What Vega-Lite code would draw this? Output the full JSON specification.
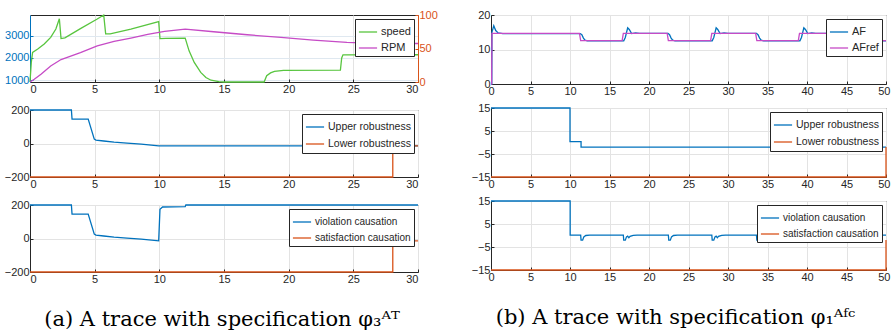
{
  "$schema": "https://vega.github.io/schema/vega-lite/v6.json",
  "padding": {"left": 0, "top": 4, "right": 0, "bottom": 0},
  "background": "white",
  "spacing": 16,
  "resolve": {"scale": {"color": "independent", "x": "independent", "y": "independent"}, "legend": {"color": "independent"}},
  "datasets": {
    "p1speed": [
      {"t": 0, "v": 920, "s": "speed"}, {"t": 0.1, "v": 1800, "s": "speed"}, {"t": 0.2, "v": 2250, "s": "speed"},
      {"t": 0.6, "v": 2400, "s": "speed"}, {"t": 1.1, "v": 2625, "s": "speed"}, {"t": 1.6, "v": 2925, "s": "speed"},
      {"t": 2.0, "v": 3300, "s": "speed"}, {"t": 2.27, "v": 3760, "s": "speed"}, {"t": 2.4, "v": 2870, "s": "speed"},
      {"t": 2.7, "v": 2900, "s": "speed"}, {"t": 3.9, "v": 3320, "s": "speed"}, {"t": 5.2, "v": 3750, "s": "speed"},
      {"t": 5.7, "v": 3930, "s": "speed"}, {"t": 5.85, "v": 3080, "s": "speed"}, {"t": 6.2, "v": 3080, "s": "speed"},
      {"t": 7.8, "v": 3300, "s": "speed"}, {"t": 9.95, "v": 3630, "s": "speed"}, {"t": 10.05, "v": 2870, "s": "speed"},
      {"t": 10.5, "v": 2880, "s": "speed"}, {"t": 12.0, "v": 2890, "s": "speed"}, {"t": 12.3, "v": 2320, "s": "speed"},
      {"t": 12.7, "v": 1800, "s": "speed"}, {"t": 13.2, "v": 1350, "s": "speed"}, {"t": 13.6, "v": 1120, "s": "speed"},
      {"t": 14.0, "v": 1000, "s": "speed"}, {"t": 14.6, "v": 935, "s": "speed"}, {"t": 15.0, "v": 920, "s": "speed"},
      {"t": 18.1, "v": 920, "s": "speed"}, {"t": 18.3, "v": 1200, "s": "speed"}, {"t": 18.6, "v": 1330, "s": "speed"},
      {"t": 18.9, "v": 1400, "s": "speed"}, {"t": 19.6, "v": 1445, "s": "speed"}, {"t": 24.0, "v": 1450, "s": "speed"},
      {"t": 24.1, "v": 2000, "s": "speed"}, {"t": 24.2, "v": 2140, "s": "speed"}, {"t": 30, "v": 2145, "s": "speed"}
    ],
    "p1rpm": [
      {"t": 0, "v": 0, "s": "RPM"}, {"t": 0.33, "v": 4, "s": "RPM"}, {"t": 0.85, "v": 11.5, "s": "RPM"},
      {"t": 1.6, "v": 24, "s": "RPM"}, {"t": 2.4, "v": 33.5, "s": "RPM"}, {"t": 3.9, "v": 44, "s": "RPM"},
      {"t": 5.2, "v": 54, "s": "RPM"}, {"t": 6.5, "v": 60.5, "s": "RPM"}, {"t": 7.8, "v": 65.5, "s": "RPM"},
      {"t": 9.1, "v": 71, "s": "RPM"}, {"t": 10.4, "v": 75.5, "s": "RPM"}, {"t": 12.0, "v": 79, "s": "RPM"},
      {"t": 14.2, "v": 75, "s": "RPM"}, {"t": 16.8, "v": 70.5, "s": "RPM"}, {"t": 19.4, "v": 66.5, "s": "RPM"},
      {"t": 21.9, "v": 62.5, "s": "RPM"}, {"t": 24.5, "v": 59, "s": "RPM"}, {"t": 27.1, "v": 57.5, "s": "RPM"},
      {"t": 30, "v": 57.5, "s": "RPM"}
    ],
    "p2": [
      {"t": 0, "v": 200, "s": "Upper robustness"}, {"t": 3.2, "v": 200, "s": "Upper robustness"},
      {"t": 3.25, "v": 146, "s": "Upper robustness"}, {"t": 4.5, "v": 146, "s": "Upper robustness"},
      {"t": 4.97, "v": 26, "s": "Upper robustness"}, {"t": 5.1, "v": 20, "s": "Upper robustness"},
      {"t": 5.7, "v": 15, "s": "Upper robustness"}, {"t": 6.5, "v": 8, "s": "Upper robustness"},
      {"t": 7.5, "v": 2, "s": "Upper robustness"}, {"t": 8.6, "v": -4, "s": "Upper robustness"},
      {"t": 9.95, "v": -14, "s": "Upper robustness"}, {"t": 30, "v": -14, "s": "Upper robustness"},
      {"t": 0, "v": -200, "s": "Lower robustness"}, {"t": 28.05, "v": -200, "s": "Lower robustness"},
      {"t": 28.05, "v": -14, "s": "Lower robustness"}, {"t": 30, "v": -14, "s": "Lower robustness"}
    ],
    "p3": [
      {"t": 0, "v": 200, "s": "violation causation"}, {"t": 3.2, "v": 200, "s": "violation causation"},
      {"t": 3.25, "v": 146, "s": "violation causation"}, {"t": 4.5, "v": 146, "s": "violation causation"},
      {"t": 4.97, "v": 26, "s": "violation causation"}, {"t": 5.1, "v": 20, "s": "violation causation"},
      {"t": 5.7, "v": 15, "s": "violation causation"}, {"t": 6.5, "v": 8, "s": "violation causation"},
      {"t": 7.5, "v": 2, "s": "violation causation"}, {"t": 8.6, "v": -4, "s": "violation causation"},
      {"t": 9.95, "v": -14, "s": "violation causation"}, {"t": 10.05, "v": 175, "s": "violation causation"},
      {"t": 10.25, "v": 188, "s": "violation causation"}, {"t": 12.0, "v": 190, "s": "violation causation"},
      {"t": 12.05, "v": 200, "s": "violation causation"}, {"t": 30, "v": 200, "s": "violation causation"},
      {"t": 0, "v": -200, "s": "satisfaction causation"}, {"t": 28.05, "v": -200, "s": "satisfaction causation"},
      {"t": 28.05, "v": -14, "s": "satisfaction causation"}, {"t": 30, "v": -14, "s": "satisfaction causation"}
    ],
    "p4": [
      {"t": 0, "v": 0, "s": "AF"}, {"t": 0.1, "v": 0, "s": "AF"}, {"t": 0.12, "v": 15, "s": "AF"},
      {"t": 0.35, "v": 16.9, "s": "AF"}, {"t": 0.6, "v": 15.5, "s": "AF"}, {"t": 0.9, "v": 14.8, "s": "AF"},
      {"t": 1.5, "v": 14.6, "s": "AF"}, {"t": 11.3, "v": 14.6, "s": "AF"}, {"t": 11.5, "v": 14.3, "s": "AF"},
      {"t": 11.7, "v": 13.3, "s": "AF"}, {"t": 11.9, "v": 12.7, "s": "AF"}, {"t": 12.2, "v": 12.5, "s": "AF"},
      {"t": 16.8, "v": 12.5, "s": "AF"}, {"t": 17.0, "v": 13.5, "s": "AF"}, {"t": 17.3, "v": 16.3, "s": "AF"},
      {"t": 17.5, "v": 15.8, "s": "AF"}, {"t": 17.8, "v": 14.6, "s": "AF"}, {"t": 18.3, "v": 14.8, "s": "AF"},
      {"t": 18.8, "v": 14.7, "s": "AF"}, {"t": 22.4, "v": 14.7, "s": "AF"}, {"t": 22.6, "v": 14.3, "s": "AF"},
      {"t": 22.8, "v": 13.3, "s": "AF"}, {"t": 23.0, "v": 12.7, "s": "AF"}, {"t": 23.3, "v": 12.5, "s": "AF"},
      {"t": 28.0, "v": 12.5, "s": "AF"}, {"t": 28.2, "v": 13.5, "s": "AF"}, {"t": 28.5, "v": 16.3, "s": "AF"},
      {"t": 28.7, "v": 15.8, "s": "AF"}, {"t": 29.0, "v": 14.6, "s": "AF"}, {"t": 29.5, "v": 14.8, "s": "AF"},
      {"t": 30.0, "v": 14.7, "s": "AF"}, {"t": 33.6, "v": 14.7, "s": "AF"}, {"t": 33.8, "v": 14.3, "s": "AF"},
      {"t": 34.0, "v": 13.3, "s": "AF"}, {"t": 34.2, "v": 12.7, "s": "AF"}, {"t": 34.5, "v": 12.5, "s": "AF"},
      {"t": 39.1, "v": 12.5, "s": "AF"}, {"t": 39.3, "v": 13.5, "s": "AF"}, {"t": 39.6, "v": 16.3, "s": "AF"},
      {"t": 39.8, "v": 15.8, "s": "AF"}, {"t": 40.1, "v": 14.6, "s": "AF"}, {"t": 40.6, "v": 14.8, "s": "AF"},
      {"t": 41.1, "v": 14.7, "s": "AF"}, {"t": 44.8, "v": 14.7, "s": "AF"}, {"t": 45.0, "v": 14.3, "s": "AF"},
      {"t": 45.2, "v": 13.3, "s": "AF"}, {"t": 45.4, "v": 12.7, "s": "AF"}, {"t": 45.7, "v": 12.5, "s": "AF"},
      {"t": 50, "v": 12.5, "s": "AF"},
      {"t": 0, "v": 0, "s": "AFref"}, {"t": 0.08, "v": 0, "s": "AFref"}, {"t": 0.12, "v": 14.7, "s": "AFref"},
      {"t": 11.2, "v": 14.7, "s": "AFref"}, {"t": 11.35, "v": 12.6, "s": "AFref"}, {"t": 16.6, "v": 12.6, "s": "AFref"},
      {"t": 16.75, "v": 14.7, "s": "AFref"}, {"t": 22.3, "v": 14.7, "s": "AFref"}, {"t": 22.45, "v": 12.6, "s": "AFref"},
      {"t": 27.8, "v": 12.6, "s": "AFref"}, {"t": 27.95, "v": 14.7, "s": "AFref"}, {"t": 33.5, "v": 14.7, "s": "AFref"},
      {"t": 33.65, "v": 12.6, "s": "AFref"}, {"t": 38.9, "v": 12.6, "s": "AFref"}, {"t": 39.05, "v": 14.7, "s": "AFref"},
      {"t": 44.7, "v": 14.7, "s": "AFref"}, {"t": 44.85, "v": 12.6, "s": "AFref"}, {"t": 50, "v": 12.6, "s": "AFref"}
    ],
    "p5": [
      {"t": 0, "v": 15, "s": "Upper robustness"}, {"t": 10, "v": 15, "s": "Upper robustness"},
      {"t": 10, "v": 0.4, "s": "Upper robustness"}, {"t": 11.4, "v": 0.4, "s": "Upper robustness"},
      {"t": 11.4, "v": -2, "s": "Upper robustness"}, {"t": 50, "v": -2, "s": "Upper robustness"},
      {"t": 0, "v": -15, "s": "Lower robustness"}, {"t": 50, "v": -15, "s": "Lower robustness"},
      {"t": 50, "v": -2, "s": "Lower robustness"}
    ],
    "p6": [
      {"t": 0, "v": 15, "s": "violation causation"}, {"t": 10.02, "v": 15, "s": "violation causation"},
      {"t": 10.02, "v": 0.2, "s": "violation causation"}, {"t": 11.35, "v": 0.2, "s": "violation causation"},
      {"t": 11.4, "v": -2, "s": "violation causation"}, {"t": 11.6, "v": -2, "s": "violation causation"},
      {"t": 11.75, "v": -0.6, "s": "violation causation"}, {"t": 12.0, "v": 0, "s": "violation causation"},
      {"t": 12.5, "v": 0.2, "s": "violation causation"}, {"t": 16.75, "v": 0.2, "s": "violation causation"},
      {"t": 16.8, "v": -2, "s": "violation causation"}, {"t": 17.0, "v": -2, "s": "violation causation"},
      {"t": 17.15, "v": -0.6, "s": "violation causation"}, {"t": 17.3, "v": -0.3, "s": "violation causation"},
      {"t": 17.45, "v": -1, "s": "violation causation"}, {"t": 17.6, "v": -0.4, "s": "violation causation"},
      {"t": 18.0, "v": 0.1, "s": "violation causation"}, {"t": 18.5, "v": 0.2, "s": "violation causation"},
      {"t": 22.45, "v": 0.2, "s": "violation causation"}, {"t": 22.5, "v": -2, "s": "violation causation"},
      {"t": 22.7, "v": -2, "s": "violation causation"}, {"t": 22.85, "v": -0.6, "s": "violation causation"},
      {"t": 23.1, "v": 0, "s": "violation causation"}, {"t": 23.6, "v": 0.2, "s": "violation causation"},
      {"t": 27.95, "v": 0.2, "s": "violation causation"}, {"t": 28.0, "v": -2, "s": "violation causation"},
      {"t": 28.2, "v": -2, "s": "violation causation"}, {"t": 28.35, "v": -0.6, "s": "violation causation"},
      {"t": 28.5, "v": -0.3, "s": "violation causation"}, {"t": 28.65, "v": -1, "s": "violation causation"},
      {"t": 28.8, "v": -0.4, "s": "violation causation"}, {"t": 29.2, "v": 0.1, "s": "violation causation"},
      {"t": 29.7, "v": 0.2, "s": "violation causation"}, {"t": 33.6, "v": 0.2, "s": "violation causation"},
      {"t": 33.65, "v": -2, "s": "violation causation"}, {"t": 33.85, "v": -2, "s": "violation causation"},
      {"t": 34.0, "v": -0.6, "s": "violation causation"}, {"t": 34.25, "v": 0, "s": "violation causation"},
      {"t": 34.75, "v": 0.2, "s": "violation causation"}, {"t": 39.1, "v": 0.2, "s": "violation causation"},
      {"t": 39.15, "v": -2, "s": "violation causation"}, {"t": 39.35, "v": -2, "s": "violation causation"},
      {"t": 39.5, "v": -0.6, "s": "violation causation"}, {"t": 39.65, "v": -0.3, "s": "violation causation"},
      {"t": 39.8, "v": -1, "s": "violation causation"}, {"t": 39.95, "v": -0.4, "s": "violation causation"},
      {"t": 40.35, "v": 0.1, "s": "violation causation"}, {"t": 40.85, "v": 0.2, "s": "violation causation"},
      {"t": 44.75, "v": 0.2, "s": "violation causation"}, {"t": 44.8, "v": -2, "s": "violation causation"},
      {"t": 45.0, "v": -2, "s": "violation causation"}, {"t": 45.15, "v": -0.6, "s": "violation causation"},
      {"t": 45.4, "v": 0, "s": "violation causation"}, {"t": 45.9, "v": 0.2, "s": "violation causation"},
      {"t": 50, "v": 0.2, "s": "violation causation"},
      {"t": 0, "v": -15, "s": "satisfaction causation"}, {"t": 50, "v": -15, "s": "satisfaction causation"},
      {"t": 50, "v": -2, "s": "satisfaction causation"}
    ]
  },
  "hconcat": [
    {
      "resolve": {"scale": {"color": "independent", "x": "independent", "y": "independent"}, "legend": {"color": "independent"}},
      "vconcat": [
        {
          "width": 388, "height": 67,
          "title": {"text": " ", "fontSize": 1, "offset": 3},
          "layer": [
            {
              "data": {"name": "p1speed"},
              "mark": {"type": "line"},
              "encoding": {
                "x": {"field": "t", "type": "quantitative", "scale": {"domain": [0, 30], "nice": false}, "axis": {"values": [0, 5, 10, 15, 20, 25, 30], "title": null}},
                "y": {"field": "v", "type": "quantitative", "scale": {"domain": [920, 3930], "nice": false, "zero": false},
                  "axis": {"values": [1000, 2000, 3000], "format": "d", "orient": "left", "title": null, "labelColor": "#0072BD", "domainColor": "#0072BD", "tickColor": "#0072BD", "gridColor": "#dfe8f0", "minExtent": 29, "maxExtent": 29}},
                "color": {"field": "s", "type": "nominal", "scale": {"domain": ["speed", "RPM"], "range": ["#58C53F", "#C64BC6"]}, "legend": {"labelFontSize": 11}},
                "order": {"value": null}
              }
            },
            {
              "data": {"name": "p1rpm"},
              "mark": {"type": "line"},
              "encoding": {
                "x": {"field": "t", "type": "quantitative"},
                "y": {"field": "v", "type": "quantitative", "scale": {"domain": [0, 100], "nice": false},
                  "axis": {"values": [0, 50, 100], "orient": "right", "title": null, "grid": false, "labelColor": "#D95319", "domainColor": "#D95319", "tickColor": "#D95319", "minExtent": 25, "maxExtent": 25}},
                "color": {"field": "s", "type": "nominal", "scale": {"domain": ["speed", "RPM"], "range": ["#58C53F", "#C64BC6"]}},
                "order": {"value": null}
              }
            }
          ],
          "resolve": {"scale": {"y": "independent"}}
        },
        {
          "width": 388, "height": 67,
          "data": {"name": "p2"},
          "mark": {"type": "line"},
          "encoding": {
            "x": {"field": "t", "type": "quantitative", "scale": {"domain": [0, 30], "nice": false}, "axis": {"values": [0, 5, 10, 15, 20, 25, 30], "title": null}},
            "y": {"field": "v", "type": "quantitative", "scale": {"domain": [-200, 200], "nice": false}, "axis": {"values": [-200, 0, 200], "title": null, "minExtent": 29, "maxExtent": 29}},
            "color": {"field": "s", "type": "nominal", "scale": {"domain": ["Upper robustness", "Lower robustness"], "range": ["#0072BD", "#D95319"]}, "legend": {"labelFontSize": 10.5}},
            "order": {"value": null}
          }
        },
        {
          "width": 388, "height": 67,
          "data": {"name": "p3"},
          "mark": {"type": "line"},
          "encoding": {
            "x": {"field": "t", "type": "quantitative", "scale": {"domain": [0, 30], "nice": false}, "axis": {"values": [0, 5, 10, 15, 20, 25, 30], "title": null}},
            "y": {"field": "v", "type": "quantitative", "scale": {"domain": [-200, 200], "nice": false}, "axis": {"values": [-200, 0, 200], "title": null, "minExtent": 29, "maxExtent": 29}},
            "color": {"field": "s", "type": "nominal", "scale": {"domain": ["violation causation", "satisfaction causation"], "range": ["#0072BD", "#D95319"]}, "legend": {"labelFontSize": 10}},
            "order": {"value": null}
          }
        }
      ],
      "spacing": 8,
      "align": "each",
      "title": {"text": "(a) A trace with specification φ₃ᴬᵀ", "orient": "bottom", "anchor": "middle", "frame": "bounds", "font": "DejaVu Serif", "fontSize": 21, "fontWeight": "normal", "color": "#000000", "offset": 24}
    },
    {
      "resolve": {"scale": {"color": "independent", "x": "independent", "y": "independent"}, "legend": {"color": "independent"}},
      "vconcat": [
        {
          "width": 395, "height": 69,
          "data": {"name": "p4"},
          "mark": {"type": "line"},
          "encoding": {
            "x": {"field": "t", "type": "quantitative", "scale": {"domain": [0, 50], "nice": false},
              "axis": {"values": [0, 5, 10, 15, 20, 25, 30, 35, 40, 45, 50], "title": null,
                "labelAlign": {"condition": {"test": "datum.value == 50", "value": "right"}, "value": "center"},
                "labelOffset": {"condition": {"test": "datum.value == 50", "value": 4}, "value": 0}}},
            "y": {"field": "v", "type": "quantitative", "scale": {"domain": [0, 20], "nice": false}, "axis": {"values": [0, 10, 20], "title": null, "minExtent": 30, "maxExtent": 30}},
            "color": {"field": "s", "type": "nominal", "scale": {"domain": ["AF", "AFref"], "range": ["#0072BD", "#C64BC6"]}, "legend": {"labelFontSize": 11}},
            "order": {"value": null}
          }
        },
        {
          "width": 395, "height": 69,
          "data": {"name": "p5"},
          "mark": {"type": "line"},
          "encoding": {
            "x": {"field": "t", "type": "quantitative", "scale": {"domain": [0, 50], "nice": false},
              "axis": {"values": [0, 5, 10, 15, 20, 25, 30, 35, 40, 45, 50], "title": null,
                "labelAlign": {"condition": {"test": "datum.value == 50", "value": "right"}, "value": "center"},
                "labelOffset": {"condition": {"test": "datum.value == 50", "value": 4}, "value": 0}}},
            "y": {"field": "v", "type": "quantitative", "scale": {"domain": [-15, 15], "nice": false}, "axis": {"values": [-15, -5, 5, 15], "title": null, "minExtent": 30, "maxExtent": 30}},
            "color": {"field": "s", "type": "nominal", "scale": {"domain": ["Upper robustness", "Lower robustness"], "range": ["#0072BD", "#D95319"]}, "legend": {"labelFontSize": 10.5}},
            "order": {"value": null}
          }
        },
        {
          "width": 395, "height": 69,
          "data": {"name": "p6"},
          "mark": {"type": "line"},
          "encoding": {
            "x": {"field": "t", "type": "quantitative", "scale": {"domain": [0, 50], "nice": false},
              "axis": {"values": [0, 5, 10, 15, 20, 25, 30, 35, 40, 45, 50], "title": null,
                "labelAlign": {"condition": {"test": "datum.value == 50", "value": "right"}, "value": "center"},
                "labelOffset": {"condition": {"test": "datum.value == 50", "value": 4}, "value": 0}}},
            "y": {"field": "v", "type": "quantitative", "scale": {"domain": [-15, 15], "nice": false}, "axis": {"values": [-15, -5, 5, 15], "title": null, "minExtent": 30, "maxExtent": 30}},
            "color": {"field": "s", "type": "nominal", "scale": {"domain": ["violation causation", "satisfaction causation"], "range": ["#0072BD", "#D95319"]}, "legend": {"labelFontSize": 10}},
            "order": {"value": null}
          }
        }
      ],
      "spacing": 4,
      "align": "each",
      "title": {"text": "(b) A trace with specification φ₁ᴬᶠᶜ", "orient": "bottom", "anchor": "middle", "frame": "bounds", "font": "DejaVu Serif", "fontSize": 21, "fontWeight": "normal", "color": "#000000", "offset": 24}
    }
  ],
  "config": {
    "font": "Liberation Sans",
    "view": {"stroke": "#262626", "strokeWidth": 1},
    "line": {"strokeWidth": 1.3},
    "axis": {
      "labelFont": "Liberation Sans", "labelFontSize": 11, "labelColor": "#262626",
      "gridColor": "#e3e3e3", "domainColor": "#262626", "tickColor": "#262626",
      "tickSize": -3, "labelPadding": 4
    },
    "legend": {
      "orient": "top-right", "offset": 4, "title": null, "symbolType": "stroke", "symbolSize": 330,
      "symbolStrokeWidth": 1.5, "labelColor": "#262626", "labelFont": "Liberation Sans",
      "strokeColor": "#262626", "fillColor": "white", "padding": 3, "rowPadding": 1, "labelOffset": 3
    }
  }
}
